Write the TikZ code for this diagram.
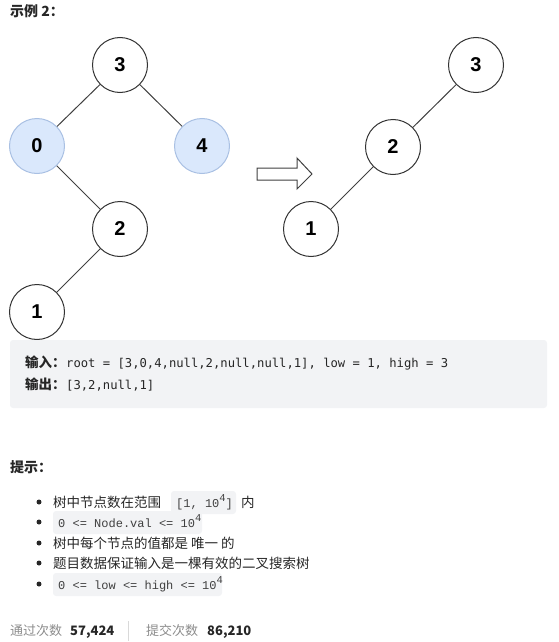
\documentclass[tikz,border=0pt]{standalone}
\usepackage{fontspec}
\setmainfont{Noto Sans CJK SC}
\newfontfamily\nodefont{Liberation Sans}
\newfontfamily\boxmono{DejaVu Sans Mono}
\newfontfamily\hintmono{Liberation Mono}
\definecolor{nodeblue}{HTML}{DAE8FC}
\definecolor{nodebluedraw}{HTML}{A9C0E3}
\definecolor{codebg}{HTML}{F2F3F5}
\definecolor{textdark}{HTML}{262626}
\definecolor{footgray}{HTML}{8C8C8C}
\newcommand{\supfour}{\raisebox{0.42em}{\fontsize{10.5}{10}\selectfont 4}}
\tikzset{
  tn/.style={circle,draw=black!80,line width=1pt,fill=white,minimum size=55pt,inner sep=0pt,font=\nodefont\fontsize{20}{20}\selectfont\bfseries},
  tnb/.style={tn,fill=nodeblue,draw=nodebluedraw},
  edge/.style={draw=black!75,line width=1pt},
  txt/.style={anchor=base west,inner sep=0pt,text=textdark,font=\fontsize{13.5}{16}\selectfont},
  code/.style={anchor=base west,inner sep=0pt,text=textdark,font=\boxmono\fontsize{12.2}{14}\selectfont},
  hcode/.style={anchor=base west,inner sep=0pt,text=black!75,font=\hintmono\fontsize{12}{14}\selectfont},
  hbg/.style={fill=codebg,rounded corners=3pt},
  bullet/.style={circle,fill=textdark,inner sep=0pt,minimum size=5pt}
}
\begin{document}
\begin{tikzpicture}[x=1pt,y=-1pt]
\useasboundingbox (0,0) rectangle (558,642);
% title
\node[txt,font=\fontsize{14}{16}\selectfont\bfseries] (title) at (10,17) {示例 2：};
% left tree
\node[tn] (a3) at (120,65) {3};
\node[tnb] (a0) at (37,146) {0};
\node[tnb] (a4) at (202,146) {4};
\node[tn] (a2) at (120,229) {2};
\node[tn] (a1) at (37,312) {1};
\draw[edge] (a3) -- (a0);
\draw[edge] (a3) -- (a4);
\draw[edge] (a0) -- (a2);
\draw[edge] (a2) -- (a1);
% arrow
\draw[draw=black!75,line width=1pt,fill=white,line join=miter]
  (257,168) -- (297,168) -- (297,158) -- (312,174) -- (297,189) -- (297,180) -- (257,180) -- cycle;
% right tree
\node[tn] (b3) at (476,65) {3};
\node[tn] (b2) at (393,147) {2};
\node[tn] (b1) at (311,229) {1};
\draw[edge] (b3) -- (b2);
\draw[edge] (b2) -- (b1);
% example box
\fill[codebg,rounded corners=3pt] (10,340) rectangle (547,408);
\node[txt,font=\fontsize{13.5}{16}\selectfont\bfseries] (in) at (25,367) {输入：};
\node[code] (inv) at (66,367) {root = [3,0,4,null,2,null,null,1], low = 1, high = 3};
\node[txt,font=\fontsize{13.5}{16}\selectfont\bfseries] (out) at (25,389) {输出：};
\node[code] (outv) at (66,389) {[3,2,null,1]};
% hints
\node[txt,font=\fontsize{14}{16}\selectfont\bfseries] (hint) at (10,472) {提示：};
\node[bullet] (b1d) at (39,502) {};
\node[txt] (h1) at (53,507) {树中节点数在范围};
\fill[hbg] (171,491) rectangle (236,514);
\node[hcode] (h1c) at (176,507) {[1, 10\supfour]};
\node[txt] (h1b) at (241,507) {内};
\node[bullet] (b2d) at (39,522) {};
\fill[hbg] (53,511) rectangle (202,534);
\node[hcode] (h2c) at (58,527) {0 <= Node.val <= 10\supfour};
\node[bullet] (b3d) at (39,543) {};
\node[txt] (h3) at (53,548) {树中每个节点的值都是 唯一 的};
\node[bullet] (b4d) at (39,563) {};
\node[txt] (h4) at (53,568) {题目数据保证输入是一棵有效的二叉搜索树};
\node[bullet] (b5d) at (39,584) {};
\fill[hbg] (53,573) rectangle (222,596);
\node[hcode] (h5c) at (58,589) {0 <= low <= high <= 10\supfour};
% footer
\node[txt,text=footgray,font=\fontsize{13}{16}\selectfont] (f1) at (10,635) {通过次数};
\node[txt,text=black!85,font=\fontsize{13}{16}\selectfont\bfseries] (f1v) at (70,635) {57,424};
\draw[black!15,line width=1pt] (128,621) -- (128,641);
\node[txt,text=footgray,font=\fontsize{13}{16}\selectfont] (f2) at (146,635) {提交次数};
\node[txt,text=black!85,font=\fontsize{13}{16}\selectfont\bfseries] (f2v) at (207,635) {86,210};
\end{tikzpicture}
\end{document}
